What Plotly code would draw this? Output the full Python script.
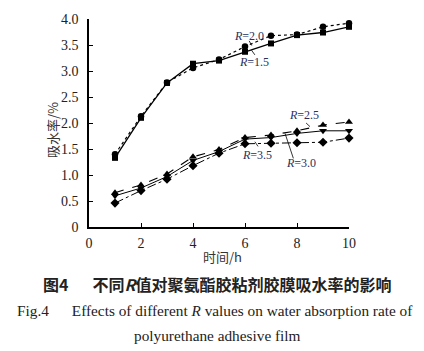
import plotly.graph_objects as go

hours = [1, 2, 3, 4, 5, 6, 7, 8, 9, 10]
r15 = [1.33, 2.10, 2.77, 3.14, 3.20, 3.37, 3.53, 3.69, 3.74, 3.85]
r20 = [1.40, 2.13, 2.78, 3.06, 3.22, 3.47, 3.68, 3.70, 3.85, 3.92]
r25 = [0.66, 0.81, 1.02, 1.35, 1.49, 1.72, 1.77, 1.85, 1.96, 2.02]
r30 = [0.60, 0.75, 0.97, 1.28, 1.45, 1.69, 1.72, 1.80, 1.85, 1.85]
r35 = [0.46, 0.70, 0.92, 1.18, 1.42, 1.60, 1.61, 1.62, 1.63, 1.71]

x_ticks = [0, 2, 4, 6, 8, 10]
y_ticks = [0, 0.5, 1.0, 1.5, 2.0, 2.5, 3.0, 3.5, 4.0]
y_ticktext = ["0", "0.5", "1.0", "1.5", "2.0", "2.5", "3.0", "3.5", "4.0"]

series = [
    ("R=1.5", r15, "square", 6, "solid", 1.3),
    ("R=2.0", r20, "circle", 6.5, "dot", 1.2),
    ("R=2.5", r25, "triangle-up", 7, "dash", 1.1),
    ("R=3.0", r30, "triangle-down", 7, "solid", 1.0),
    ("R=3.5", r35, "diamond", 7, "dashdot", 1.0),
]

# label text position, leader start, leader end (data units)
labels = [
    ("2.0", 6.15, 3.67, 6.16, 3.58, 6.26, 3.49),
    ("1.5", 6.35, 3.17, 6.25, 3.40, 6.38, 3.31),
    ("2.5", 8.25, 2.15, 8.35, 2.00, 8.50, 1.93),
    ("3.5", 6.45, 1.38, 6.38, 1.64, 6.50, 1.55),
    ("3.0", 8.15, 1.23, 7.86, 1.32, 7.54, 1.80),
]

fig = go.Figure()
for name, vals, sym, size, dash, w in series:
    fig.add_trace(go.Scatter(
        x=hours, y=vals, mode="lines+markers", name=name,
        line=dict(color="black", width=w, dash=dash),
        marker=dict(symbol=sym, size=size, color="black"),
        showlegend=False, cliponaxis=False,
    ))

label_color = "#27305e"
for txt, tx, ty, x0, y0, x1, y1 in labels:
    fig.add_annotation(x=tx, y=ty, xref="x", yref="y", showarrow=False,
                       text="<i>R</i>=" + txt,
                       font=dict(family="Liberation Serif", size=12, color=label_color))
    fig.add_shape(type="line", xref="x", yref="y", x0=x0, y0=y0, x1=x1, y1=y1,
                  line=dict(color="black", width=0.8))

axis_font = dict(family="Liberation Serif", size=14, color="#222222")
fig.update_xaxes(range=[0, 10], tickvals=x_ticks, ticks="inside", ticklen=4,
                 showline=True, linecolor="black", linewidth=1.5, tickcolor="black",
                 showgrid=False, zeroline=False, tickfont=axis_font,
                 ticklabelstandoff=2)
fig.update_yaxes(range=[0, 4], tickvals=y_ticks, ticktext=y_ticktext, ticks="inside",
                 ticklen=4, showline=True, linecolor="black", linewidth=1.5,
                 tickcolor="black", showgrid=False, zeroline=False, tickfont=axis_font,
                 ticklabelstandoff=6)

W, H = 424, 351
L, R, T, B = 89, 75, 19, 124
pw, ph = W - L - R, H - T - B


def px(x):
    return (x - L) / pw


def py(y):
    return (H - B - y) / ph


def note(x, y, text, font, angle=0):
    fig.add_annotation(x=px(x), y=py(y), xref="paper", yref="paper", showarrow=False,
                       xanchor="center", yanchor="middle", text=text, textangle=angle,
                       font=font)


cjk = "Noto Sans CJK SC"
note(52, 130, "吸水率/%", dict(family=cjk, size=13, color="#333333"), -90)
note(222, 256, "时间/h", dict(family=cjk, size=13, color="#333333"))
note(217, 284, "<b>图4</b>\u2003\u2002<b>不同<i>R</i>值对聚氨酯胶粘剂胶膜吸水率的影响</b>",
     dict(family=cjk, size=16, color="#222222"))
note(215, 310, "Fig.4\u2003\u2002Effects of different <i>R</i> values on water absorption rate of",
     dict(family="Liberation Serif", size=15.3, color="#222222"))
note(217, 335, "polyurethane adhesive film",
     dict(family="Liberation Serif", size=15.3, color="#222222"))

fig.update_layout(width=W, height=H, margin=dict(l=L, r=R, t=T, b=B),
                  plot_bgcolor="white", paper_bgcolor="white")
fig.write_html("out.html")
